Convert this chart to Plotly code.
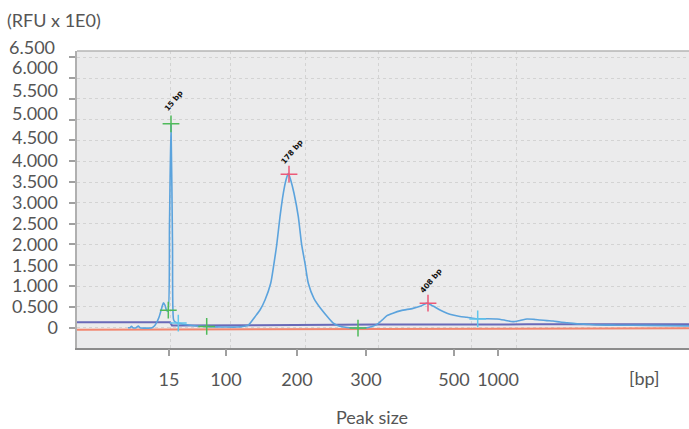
import plotly.graph_objects as go

# ---------------- data ----------------
# x is the electropherogram migration position (arbitrary units along the run)
signal_x = [51, 53, 54.5, 56, 59, 61.3, 63, 75, 78, 82, 85, 86.5, 88, 89.5, 91,
            92.5, 94, 95.5, 96.5, 98, 101, 105, 110, 120, 130, 140, 150, 160, 165,
            171.3, 178, 183, 188, 193.7, 197, 199.7, 203, 206.3, 209, 211.3,
            213.7, 217, 221.3, 224.7, 228, 231.3, 237, 244.7, 251.3, 256.3, 262, 270,
            281, 290, 295, 300, 305, 310, 316, 324,
            336, 344, 350, 356, 363, 370, 376, 383, 390, 400, 410, 420, 428, 436,
            443, 450, 457, 463, 470, 476, 483, 490, 496, 503, 510, 520, 540, 570, 612]
signal_y = [0, 0, 35, 0, 0, 40, 0, 0, 60, 250, 500, 600, 540, 420, 400,
            2500, 4900, 2000, 200, 140, 110, 90, 70, 40, 25, 20, 15, 15, 25,
            60, 264, 425, 666, 1067, 1548, 1988, 2668, 3231, 3551, 3712,
            3551, 3231, 2668, 1988, 1548, 1067, 700, 430, 240, 110, 40, 5,
            -10, 0, 30, 80, 180, 290, 350, 410,
            465, 520, 590, 520, 425, 350, 305, 270, 250, 215, 215, 210, 180, 145,
            175, 210, 200, 185, 170, 160, 137, 120, 105, 90, 80, 65, 60, 55, 45]

threshold_x = [0, 93, 95, 200, 300, 450, 612]
threshold_y = [130, 130, 50, 65, 75, 80, 85]

baseline_x = [0, 612]
baseline_y = [-50, -15]

# sized peaks (red), ladder/marker peaks (green), other peak boundaries (light blue)
peak_x = [212, 351]
peak_y = [3690, 590]
peak_labels = ["178 bp", "408 bp"]
ladder_x = [94, 91.3, 129.7, 281]
ladder_y = [4900, 420, 30, -10]
ladder_labels = ["15 bp"]
bound_x = [101.3, 400.7]
bound_y = [110, 210]

# axes
x_tick_pos = [92, 149, 220, 289, 377, 421]
x_tick_text = ["15", "100", "200", "300", "500", "1000"]
x_grid_pos = [93, 153, 228, 301, 394, 439]
y_ticks = [0, 500, 1000, 1500, 2000, 2500, 3000, 3500, 4000, 4500, 5000, 5500, 6000, 6500]
y_tick_text = ["0", "0.500", "1.000", "1.500", "2.000", "2.500", "3.000", "3.500",
               "4.000", "4.500", "5.000", "5.500", "6.000", "6.500"]
y_label_pos = [0, 500, 1000, 1500, 2000, 2500, 3000, 3500, 4007, 4572, 5137, 5690, 6243]
top_label_paper_y = 1.0145

X_RANGE = [0, 612]
Y_RANGE = [-488, 6651]

FONT = "Lato, 'Open Sans', sans-serif"
TXT = "#555555"

fig = go.Figure()
fig.add_trace(go.Scatter(x=baseline_x, y=baseline_y, mode="lines",
                         line=dict(color="#f2866f", width=2), hoverinfo="skip"))
fig.add_trace(go.Scatter(x=threshold_x, y=threshold_y, mode="lines",
                         line=dict(color="#6a6ab8", width=2), hoverinfo="skip"))
fig.add_trace(go.Scatter(x=signal_x, y=signal_y, mode="lines",
                         line=dict(color="#5ba3dd", width=1.6, shape="spline", smoothing=0.6),
                         hoverinfo="skip"))
fig.add_trace(go.Scatter(x=ladder_x, y=ladder_y, mode="markers",
                         marker=dict(symbol="cross-thin", size=12,
                                     line=dict(color="#4fba5a", width=1.5))))
fig.add_trace(go.Scatter(x=peak_x, y=peak_y, mode="markers",
                         marker=dict(symbol="cross-thin", size=12,
                                     line=dict(color="#ec5a78", width=1.5))))
fig.add_trace(go.Scatter(x=bound_x, y=bound_y, mode="markers",
                         marker=dict(symbol="cross-thin", size=12,
                                     line=dict(color="#62c6ec", width=1.5))))
# empty traces so that the label-only overlay axes are drawn
fig.add_trace(go.Scatter(x=[None], y=[None], xaxis="x2", yaxis="y", mode="lines",
                         hoverinfo="skip"))
fig.add_trace(go.Scatter(x=[None], y=[None], xaxis="x", yaxis="y2", mode="lines",
                         hoverinfo="skip"))

# rotated peak labels
labelled = [(ladder_x[0], ladder_y[0], ladder_labels[0])] + list(zip(peak_x, peak_y, peak_labels))
for px, py, t in labelled:
    fig.add_annotation(x=px, y=py, text="<b>%s</b>" % t, showarrow=False,
                       textangle=-50, xshift=3, yshift=23,
                       font=dict(family="DejaVu Sans", size=7.5, color="#111111"))

# top y label sits above the plotting area, so it is drawn as text next to the axis
fig.add_annotation(xref="paper", yref="paper", x=-0.0327, y=top_label_paper_y,
                   xanchor="right", yanchor="middle", text=y_tick_text[-1],
                   showarrow=False, font=dict(family=FONT, size=18, color=TXT))

fig.add_annotation(xref="paper", yref="paper", x=-0.1176, y=1.104, xanchor="left",
                   yanchor="middle", text="(RFU x 1E0)", showarrow=False,
                   font=dict(family=FONT, size=18, color=TXT))
fig.add_annotation(xref="paper", yref="paper", x=0.928, y=-0.101, xanchor="center",
                   yanchor="middle", text="[bp]", showarrow=False,
                   font=dict(family=FONT, size=18, color=TXT))
fig.add_annotation(xref="paper", yref="paper", x=0.4815, y=-0.233, xanchor="center",
                   yanchor="middle", text="Peak size", showarrow=False,
                   font=dict(family=FONT, size=18, color=TXT))

fig.add_shape(type="line", xref="paper", yref="paper", x0=0, x1=1, y0=1, y1=1,
              line=dict(color="#b4b4b4", width=1.5))

fig.update_layout(
    width=689, height=429,
    margin=dict(l=77, r=0, t=51, b=81),
    paper_bgcolor="white", plot_bgcolor="#ebebec",
    showlegend=False,
    xaxis=dict(range=X_RANGE, tickvals=x_grid_pos, showticklabels=False, ticks="",
               showgrid=True, gridcolor="#d3d3d3", griddash="dot", gridwidth=1,
               zeroline=False, showline=True, linecolor="#8c8c8c", linewidth=2),
    xaxis2=dict(range=X_RANGE, overlaying="x", anchor="y", side="bottom",
                tickvals=x_tick_pos, ticktext=x_tick_text, ticks="outside", ticklen=7,
                tickcolor="#a0a0a0", tickwidth=1.5, showgrid=False, zeroline=False,
                showline=False, ticklabelstandoff=8,
                tickfont=dict(family=FONT, size=18, color=TXT)),
    yaxis=dict(range=Y_RANGE, tickvals=y_ticks, showticklabels=False, ticks="outside",
               ticklen=6, tickcolor="#a0a0a0", tickwidth=1.5,
               showgrid=True, gridcolor="#d3d3d3", griddash="dot", gridwidth=1,
               zeroline=False, showline=True, linecolor="#b0b0b0", linewidth=2),
    yaxis2=dict(range=Y_RANGE, overlaying="y", anchor="x", side="left",
                tickvals=y_label_pos, ticktext=y_tick_text[:len(y_label_pos)], ticks="",
                showgrid=False, zeroline=False, showline=False, ticklabelstandoff=18,
                tickfont=dict(family=FONT, size=18, color=TXT)),
)

fig.write_html("out.html", config={"displayModeBar": False},
               post_script="document.body.style.margin='0';")
